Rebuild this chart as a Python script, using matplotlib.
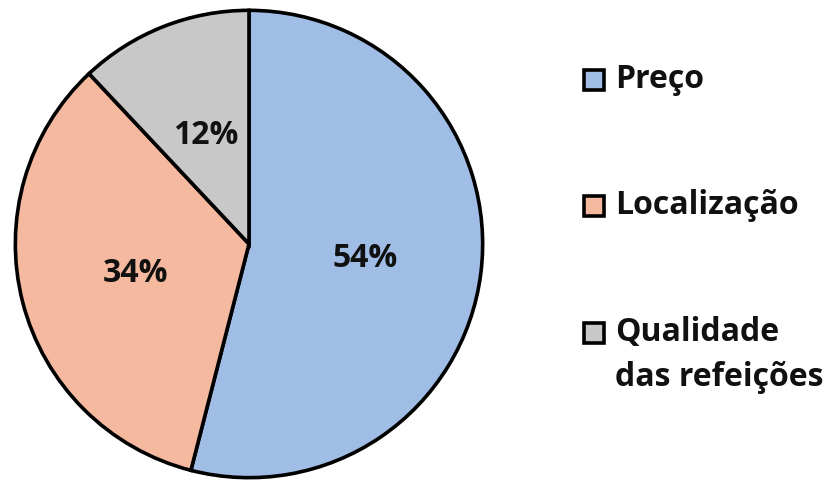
import matplotlib.pyplot as plt
from matplotlib.patches import Rectangle

labels = ['Preço', 'Localização', ['Qualidade', 'das refeições']]
shares = [54, 34, 12]
colors = ['#9fbde5', '#f5b99f', '#c8c8c8']

plt.rcParams['font.family'] = ['Open Sans', 'DejaVu Sans']

W, H = 830, 482
fig = plt.figure(figsize=(W / 100, H / 100), dpi=100)

# pie centre and radius in pixels
cx, cy, r = 249, 244, 236
ax = fig.add_axes([(cx - r) / W, (H - cy - r) / H, 2 * r / W, 2 * r / H])
ax.pie(shares, colors=colors, startangle=90, counterclock=False,
       autopct='%d%%', pctdistance=0.5,
       wedgeprops=dict(edgecolor='black', linewidth=2.6),
       textprops=dict(fontsize=23, fontweight='bold', color='#111111'))
ax.set_xlim(-1.01, 1.01)
ax.set_ylim(-1.01, 1.01)
ax.set_aspect('equal')
ax.axis('off')

# legend drawn by hand on the right
rows = [80, 206, 333]
for lab, col, y in zip(labels, colors, rows):
    fig.patches.append(Rectangle((584 / W, (H - y - 10) / H), 20 / W, 20 / H,
                                 transform=fig.transFigure, facecolor=col,
                                 edgecolor='black', linewidth=2.6))
    lines = lab if isinstance(lab, list) else [lab]
    for i, line in enumerate(lines):
        fig.text(615 / W, (H - y - 44 * i) / H, line, fontsize=23,
                 fontweight='bold', color='#111111', va='center', ha='left')

fig.savefig('out.png', dpi=100)
